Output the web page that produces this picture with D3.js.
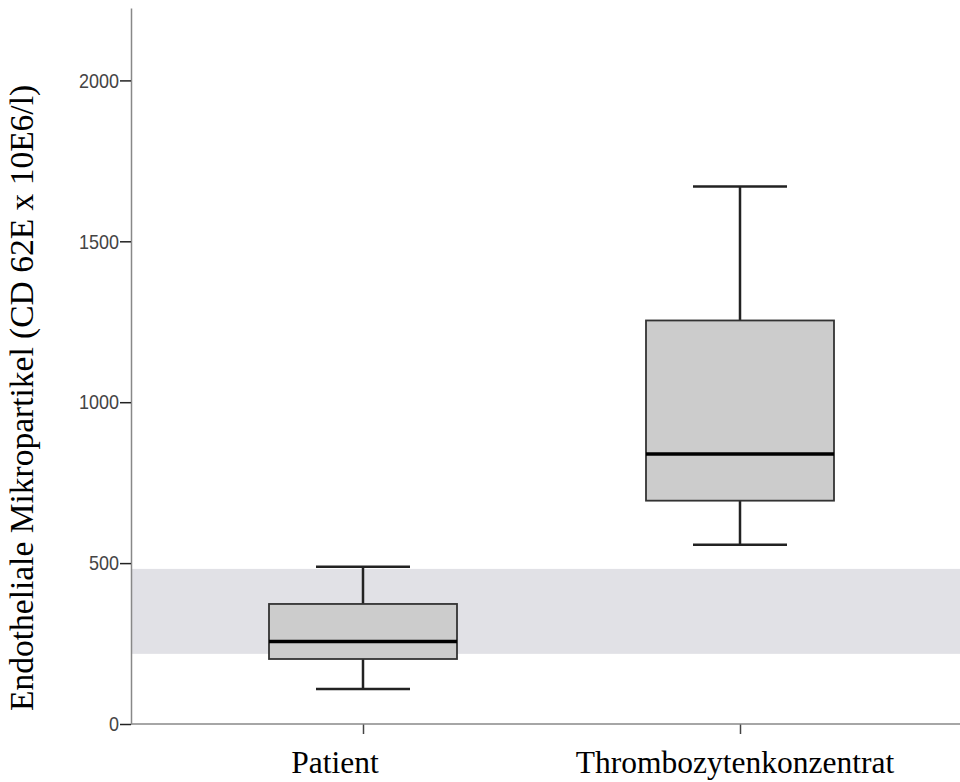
<!DOCTYPE html>
<html>
    <head>
        <meta charset="utf-8">
        <title>Endotheliale Mikropartikel</title>
        <script src="https://d3js.org/d3.v7.min.js"></script>
        <style>
            body { margin:0; background:#fff; }
            .tick text { font-family:"Liberation Sans", Arial, sans-serif; font-size:21px; fill:#444; }
            .lbl { font-family:"Liberation Serif", "Times New Roman", serif; fill:#000; }
        </style>
    </head>
    <body>
        <svg id="chart" width="960" height="782"></svg>
        <script>
            "use strict";

            // data
            const groups = ["Patient", "Thrombozytenkonzentrat"];
            const whiskerLow = [109, 557];
            const q1 = [202, 694];
            const median = [256, 839];
            const q3 = [373, 1254];
            const whiskerHigh = [489, 1670];
            const refRange = [218, 482];
            const yTicks = [0, 500, 1000, 1500, 2000];
            const yTitle = "Endotheliale Mikropartikel (CD 62E x 10E6/l)";

            const svg = d3.select("#chart");
            const width = +svg.attr("width");

            const x0 = 131, yBottom = 724, yTop = 8;
            const x = d3.scalePoint().domain(groups).range([363, 740]);
            const y = d3.scaleLinear().domain([0, 2225]).range([yBottom, yTop]);

            const boxHalf = 94, capHalf = 47;

            // reference band
            svg.append("rect")
                .attr("x", x0 + 1)
                .attr("width", width - x0 - 1)
                .attr("y", y(refRange[1]))
                .attr("height", y(refRange[0]) - y(refRange[1]))
                .attr("fill", "#e1e1e6");

            // y axis
            const yAxis = svg.append("g")
                .attr("transform", `translate(${x0},0)`)
                .call(d3.axisLeft(y).tickValues(yTicks).tickFormat(d3.format("d"))
                    .tickSize(11).tickSizeOuter(0).tickPadding(1));
            yAxis.select(".domain").attr("stroke", "#888").attr("stroke-width", 1.5);
            yAxis.selectAll(".tick line").attr("stroke", "#222").attr("stroke-width", 1.5);
            // the original digits are narrow
            yAxis.selectAll(".tick text")
                .attr("textLength", d => String(d).length * 10)
                .attr("lengthAdjust", "spacingAndGlyphs");

            // x axis
            const xAxis = svg.append("g")
                .attr("transform", `translate(0,${yBottom})`)
                .call(d3.axisBottom(x).tickSize(10).tickFormat(""));
            xAxis.select(".domain").remove();
            xAxis.append("line")
                .attr("x1", x0).attr("x2", width)
                .attr("stroke", "#888").attr("stroke-width", 1.5);
            xAxis.selectAll(".tick line").attr("stroke", "#444").attr("stroke-width", 1.5);

            // boxes
            const rows = groups.map((g, i) => ({
                g, lo: whiskerLow[i], q1: q1[i], med: median[i], q3: q3[i], hi: whiskerHigh[i]
            }));

            const box = svg.selectAll(".box").data(rows).enter().append("g").attr("class", "box");
            box.append("line")
                .attr("x1", d => x(d.g)).attr("x2", d => x(d.g))
                .attr("y1", d => y(d.hi)).attr("y2", d => y(d.lo))
                .attr("stroke", "#222").attr("stroke-width", 2.5);
            box.append("line")
                .attr("x1", d => x(d.g) - capHalf).attr("x2", d => x(d.g) + capHalf)
                .attr("y1", d => y(d.hi)).attr("y2", d => y(d.hi))
                .attr("stroke", "#222").attr("stroke-width", 2.5);
            box.append("line")
                .attr("x1", d => x(d.g) - capHalf).attr("x2", d => x(d.g) + capHalf)
                .attr("y1", d => y(d.lo)).attr("y2", d => y(d.lo))
                .attr("stroke", "#222").attr("stroke-width", 2.5);
            box.append("rect")
                .attr("x", d => x(d.g) - boxHalf).attr("width", boxHalf * 2)
                .attr("y", d => y(d.q3)).attr("height", d => y(d.q1) - y(d.q3))
                .attr("fill", "#cccccc").attr("stroke", "#333").attr("stroke-width", 1.8);
            box.append("line")
                .attr("x1", d => x(d.g) - boxHalf).attr("x2", d => x(d.g) + boxHalf)
                .attr("y1", d => y(d.med)).attr("y2", d => y(d.med))
                .attr("stroke", "#000").attr("stroke-width", 3.5);

            // category labels (sit a bit left of their ticks in the original)
            const labelShift = [-28, -5];
            svg.selectAll(".xlbl").data(groups).enter().append("text")
                .attr("class", "lbl")
                .attr("x", (d, i) => x(d) + labelShift[i])
                .attr("y", 773)
                .attr("text-anchor", "middle")
                .attr("font-size", 31.5)
                .text(d => d);

            // y title
            svg.append("text")
                .attr("class", "lbl")
                .attr("transform", "translate(33,711) rotate(-90)")
                .attr("text-anchor", "start")
                .attr("font-size", 33.5)
                .text(yTitle);
        </script>
    </body>
</html>
